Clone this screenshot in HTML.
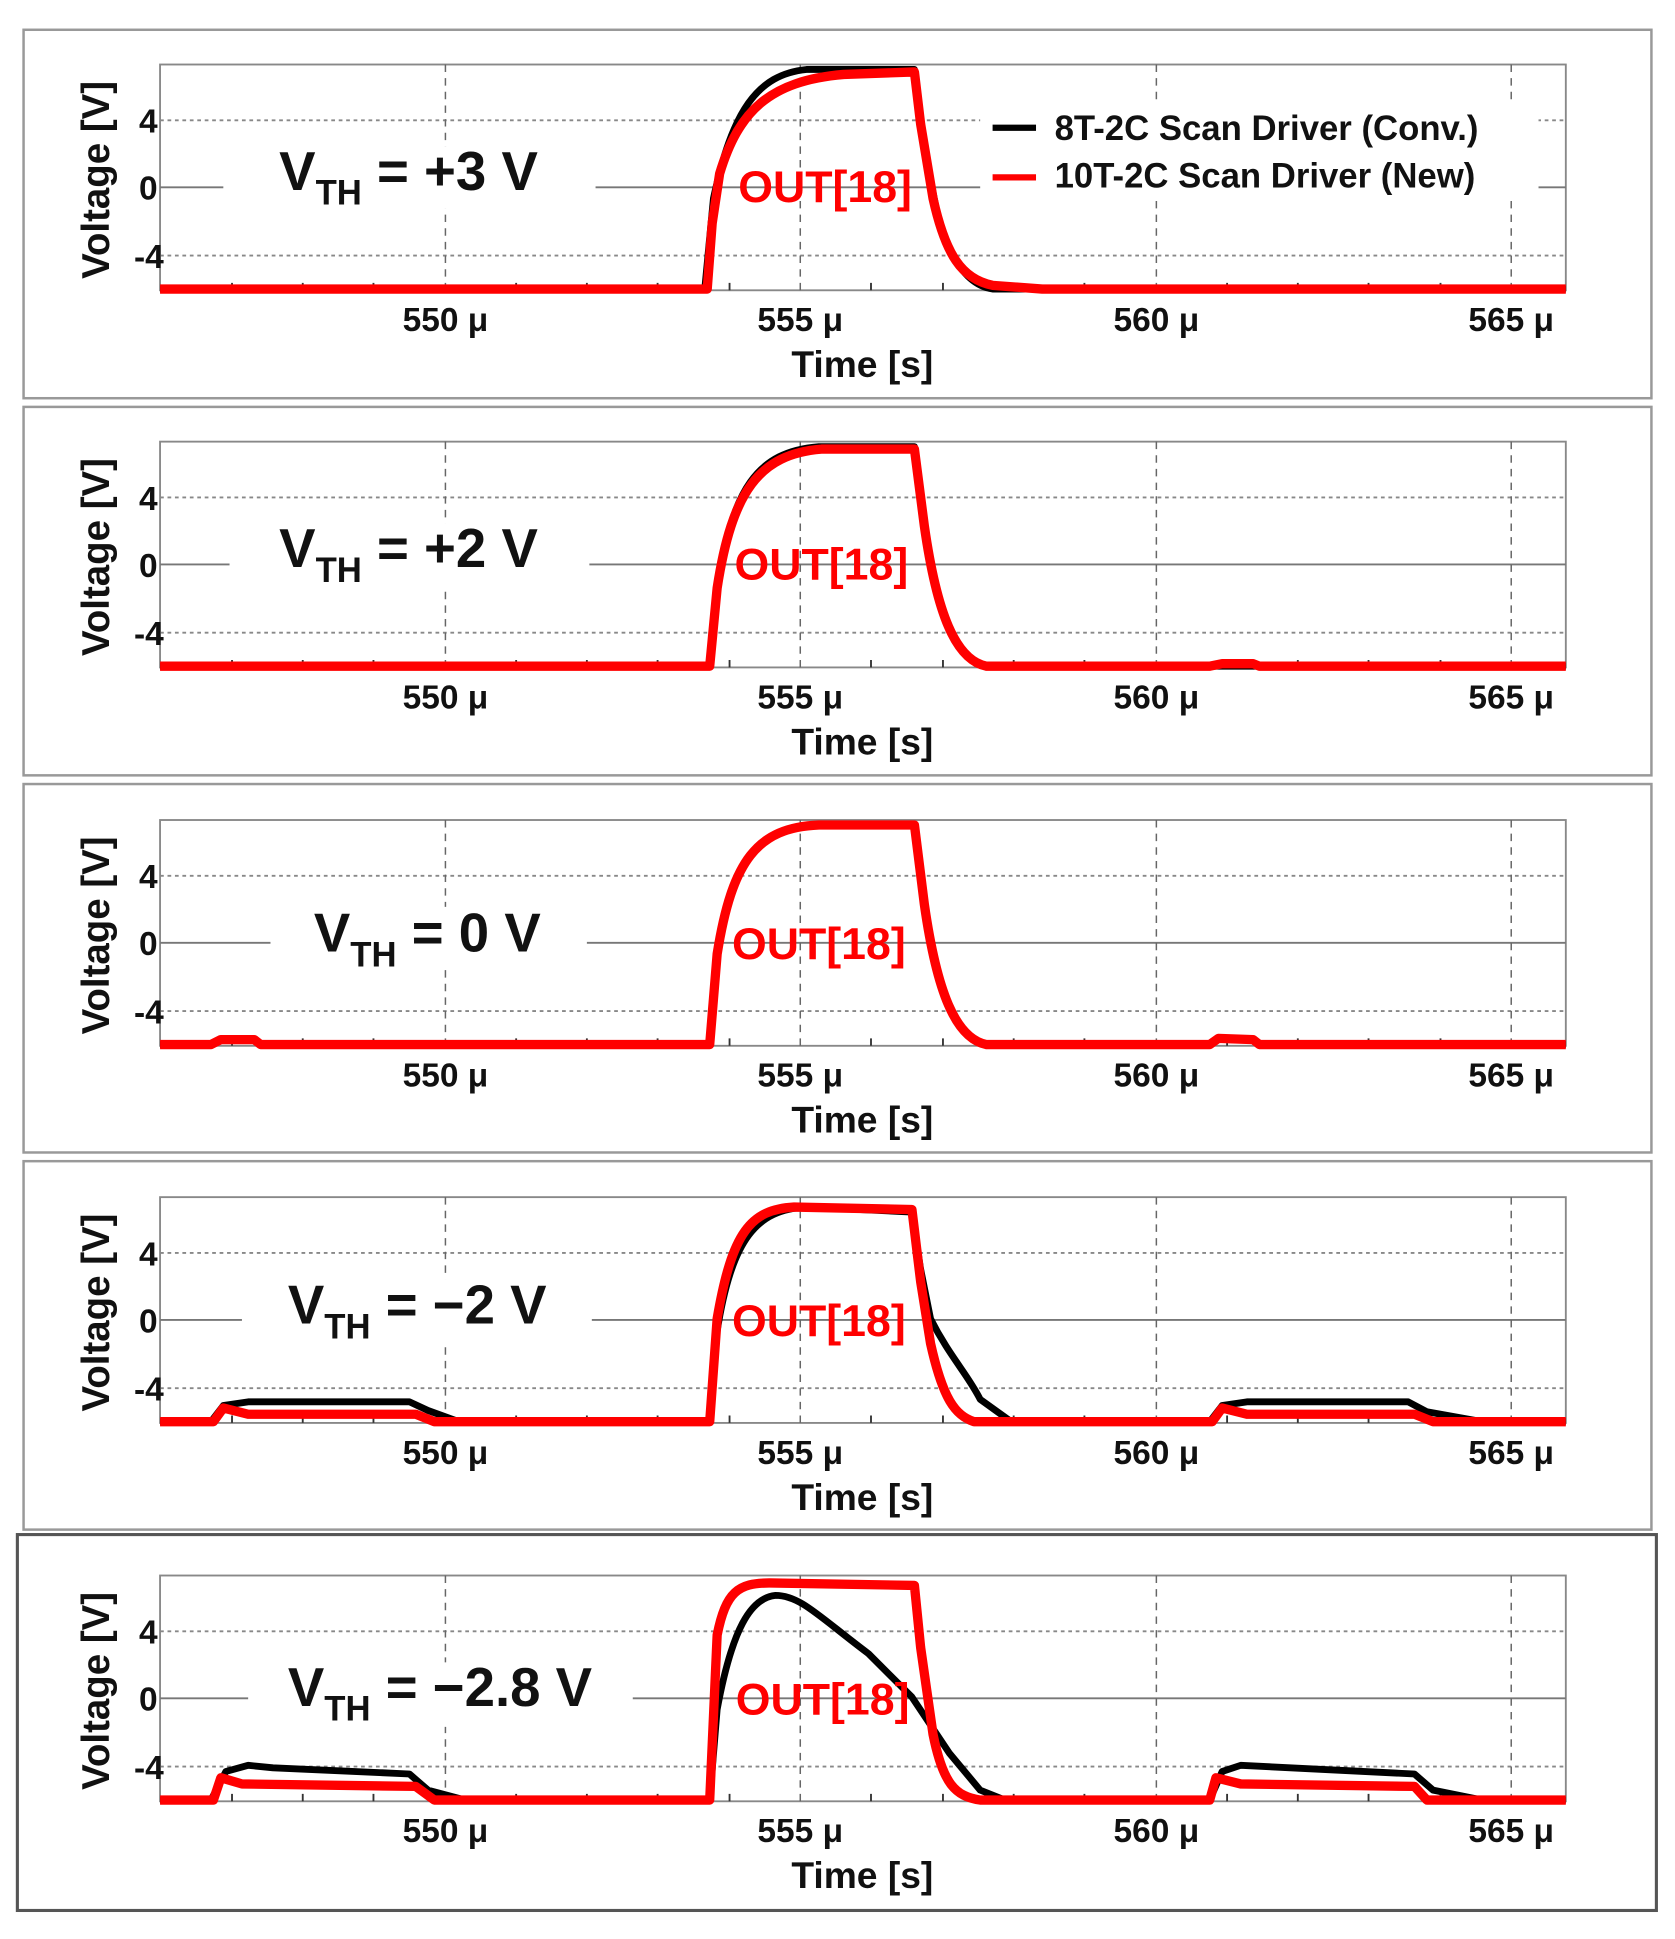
<!DOCTYPE html>
<html><head><meta charset="utf-8"><style>
html,body{margin:0;padding:0;background:#fff;}
svg{display:block;}
text{font-family:"Liberation Sans Narrow","Liberation Sans",Arial,sans-serif;font-weight:bold;}
.k{fill:none;stroke:#000;stroke-width:5.5;stroke-linejoin:round;}
.r{fill:none;stroke:#f00;stroke-width:7.5;stroke-linejoin:round;}
</style></head><body>
<svg width="1675" height="1939" viewBox="0 0 1350 1563" preserveAspectRatio="none" xmlns="http://www.w3.org/2000/svg">
<defs>
<g id="axes">
  <rect x="129" y="52" width="1133" height="182" fill="none" stroke="#888" stroke-width="1.5"/>
  <line x1="129" y1="97" x2="1262" y2="97" stroke="#888" stroke-width="1.5" stroke-dasharray="3,3"/>
  <line x1="129" y1="206" x2="1262" y2="206" stroke="#888" stroke-width="1.5" stroke-dasharray="3,3"/>
  <line x1="129" y1="151" x2="1262" y2="151" stroke="#777" stroke-width="1.5"/>
  <g stroke="#666" stroke-width="1.2" stroke-dasharray="6,5">
    <line x1="359" y1="52" x2="359" y2="234"/><line x1="645" y1="52" x2="645" y2="234"/>
    <line x1="932" y1="52" x2="932" y2="234"/><line x1="1218" y1="52" x2="1218" y2="234"/>
  </g>
  <g stroke="#333" stroke-width="1.5">
    <path d="M187,234v-6M244,234v-6M301,234v-6M416,234v-6M473,234v-6M530,234v-6M588,234v-6M702,234v-6M760,234v-6M817,234v-6M874,234v-6M989,234v-6M1046,234v-6M1103,234v-6M1161,234v-6"/>
  </g>
</g>
<g id="lab">
  <g font-size="27" text-anchor="middle" fill="#111">
    <text x="359" y="267">550 μ</text><text x="645" y="267">555 μ</text><text x="932" y="267">560 μ</text><text x="1218" y="267">565 μ</text>
    <text x="695" y="304" font-size="30">Time [s]</text>
  </g>
  <g font-size="27" text-anchor="end" fill="#111">
    <text x="127" y="107">4</text><text x="127" y="161">0</text><text x="132" y="216">-4</text>
  </g>
  <text transform="translate(88,145) rotate(-90)" font-size="31" text-anchor="middle" fill="#111">Voltage [V]</text>
</g>
</defs>

<g fill="none" stroke="#999" stroke-width="2">
<rect x="19" y="24" width="1312" height="297"/>
<rect x="19" y="328" width="1312" height="297"/>
<rect x="19" y="632" width="1312" height="297"/>
<rect x="19" y="936" width="1312" height="297"/>
</g>
<rect x="14" y="1237" width="1321" height="303" fill="none" stroke="#555" stroke-width="2.5"/>

<g transform="translate(0,0)">
  <use href="#axes"/><use href="#lab"/>
  <rect x="180" y="118" width="300" height="50" fill="#fff"/>
  <text x="225" y="153" font-size="44" fill="#111">V<tspan font-size="28" dy="12">TH</tspan><tspan dy="-12"> = +3 V</tspan></text>
  <rect x="790" y="82" width="450" height="80" fill="#fff"/>
  <line x1="800" y1="103" x2="835" y2="103" stroke="#000" stroke-width="5"/>
  <line x1="800" y1="143" x2="835" y2="143" stroke="#f00" stroke-width="5"/>
  <text x="850" y="113" font-size="28" fill="#111">8T-2C Scan Driver (Conv.)</text>
  <text x="850" y="151" font-size="28" fill="#111">10T-2C Scan Driver (New)</text>
  <path class="k" d="M129,233 L568,233 L575,160 C590,90 610,60 650,56 L737,56 L743,110 L755,170 C765,210 780,230 800,233 L1262,233"/>
  <path class="r" d="M129,233 L570,233 L574,180 L580,140 C595,90 620,65 680,60 L737,58 L742,100 L752,160 C762,205 775,225 800,230 L840,233 L1262,233"/>
  <text x="595" y="163" font-size="36" fill="#f00" font-weight="normal">OUT[18]</text>
</g>

<g transform="translate(0,304)">
  <use href="#axes"/><use href="#lab"/>
  <rect x="185" y="118" width="290" height="50" fill="#fff"/>
  <text x="225" y="153" font-size="44" fill="#111">V<tspan font-size="28" dy="12">TH</tspan><tspan dy="-12"> = +2 V</tspan></text>
  <path class="k" d="M129,233 L572,233 L578,170 C590,90 610,60 660,56 L737,56 L745,120 C755,190 770,228 795,233 L1262,233"/>
  <path class="r" d="M129,233 L572,233 L578,170 C590,92 612,62 662,58 L737,58 L745,120 C755,190 770,228 795,233 L975,233 L985,231 L1010,231 L1015,233 L1262,233"/>
  <text x="592" y="163" font-size="36" fill="#f00" font-weight="normal">OUT[18]</text>
</g>

<g transform="translate(0,609)">
  <use href="#axes"/><use href="#lab"/>
  <rect x="218" y="122" width="255" height="50" fill="#fff"/>
  <text x="253" y="158" font-size="44" fill="#111">V<tspan font-size="28" dy="12">TH</tspan><tspan dy="-12"> = 0 V</tspan></text>
  <path class="k" d="M129,233 L170,233 L178,229 L205,229 L210,233 L572,233 L578,160 C590,85 610,58 660,56 L737,56 L745,120 C755,190 770,228 795,233 L975,233 L982,228 L1010,229 L1015,233 L1262,233"/>
  <path class="r" d="M129,233 L170,233 L178,229 L205,229 L210,233 L572,233 L578,160 C590,85 610,58 660,56 L737,56 L745,120 C755,190 770,228 795,233 L975,233 L982,228 L1010,229 L1015,233 L1262,233"/>
  <text x="590" y="164" font-size="36" fill="#f00" font-weight="normal">OUT[18]</text>
</g>

<g transform="translate(0,913)">
  <use href="#axes"/><use href="#lab"/>
  <rect x="195" y="118" width="282" height="52" fill="#fff"/>
  <text x="232" y="154" font-size="44" fill="#111">V<tspan font-size="28" dy="12">TH</tspan><tspan dy="-12"> = −2 V</tspan></text>
  <path class="k" d="M129,233 L170,233 L180,220 L200,217 L330,217 L345,224 L370,233 L572,233 L578,160 C590,85 610,62 650,60 L735,64 L742,110 L750,150 C765,180 780,195 790,215 L815,233 L975,233 L985,220 L1005,217 L1135,217 L1150,225 L1195,233 L1262,233"/>
  <path class="r" d="M129,233 L172,233 L180,222 L200,227 L335,227 L350,233 L572,233 L578,150 C590,80 605,62 640,60 L735,62 L742,120 L750,170 C760,215 770,228 785,233 L977,233 L985,222 L1005,227 L1140,227 L1155,233 L1262,233"/>
  <text x="590" y="164" font-size="36" fill="#f00" font-weight="normal">OUT[18]</text>
</g>

<g transform="translate(0,1218)">
  <use href="#axes"/><use href="#lab"/>
  <rect x="200" y="122" width="310" height="52" fill="#fff"/>
  <text x="232" y="157" font-size="44" fill="#111">V<tspan font-size="28" dy="12">TH</tspan><tspan dy="-12"> = −2.8 V</tspan></text>
  <path class="k" d="M129,233 L170,233 L182,210 L200,205 L220,207 L330,212 L345,225 L375,233 L572,233 L578,160 C590,95 605,70 625,68 C645,68 660,85 700,115 L735,150 L765,195 L790,225 L810,233 L975,233 L985,210 L1000,205 L1140,212 L1155,225 L1195,233 L1262,233"/>
  <path class="r" d="M129,233 L172,233 L178,215 L195,220 L335,222 L350,233 L572,233 L578,100 C585,65 595,58 620,58 L737,60 L742,110 L752,180 C760,220 770,230 790,233 L975,233 L980,215 L1000,220 L1140,222 L1150,233 L1262,233"/>
  <text x="593" y="164" font-size="36" fill="#f00" font-weight="normal">OUT[18]</text>
</g>
</svg>
</body></html>
